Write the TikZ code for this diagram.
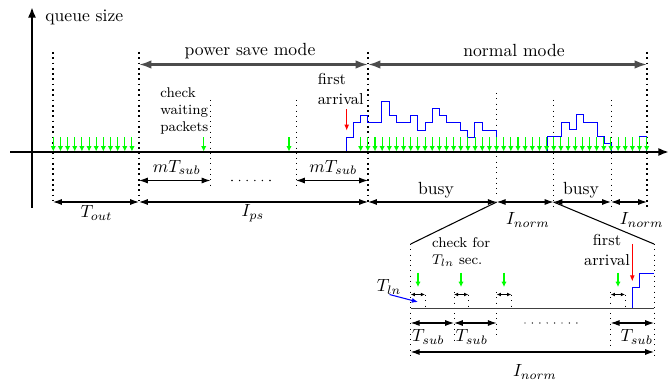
\documentclass[tikz,border=0pt]{standalone}
\usetikzlibrary{arrows.meta}
\begin{document}
\begin{tikzpicture}[x=0.568pt,y=-0.568pt,
  axisline/.style={line width=1.3pt,-{Latex[length=6pt,width=4.6pt]}},
  thickdot/.style={line width=1.1pt,dash pattern=on 1pt off 2pt},
  thindot/.style={line width=0.55pt,dash pattern=on 0.55pt off 2.45pt},
  dimarrow/.style={line width=0.6pt,{Latex[length=5pt,width=3.4pt]}-{Latex[length=5pt,width=3.4pt]}},
  tinydim/.style={line width=0.5pt,{Latex[length=2.4pt,width=2.2pt]}-{Latex[length=2.4pt,width=2.2pt]}},
  modearrow/.style={draw=black!70,line width=1.2pt,{Latex[length=7pt,width=4.8pt]}-{Latex[length=7pt,width=4.8pt]}},
  garrow/.style={draw=green,fill=green,line width=0.6pt,-{Latex[length=3pt,width=3pt]}},
  rarrow/.style={draw=red,line width=0.6pt,-{Latex[length=3.5pt,width=2.8pt]}},
  barrow/.style={draw=blue,line width=0.6pt,-{Latex[length=3.5pt,width=2.8pt]}},
  stairline/.style={draw=blue,line width=0.55pt},
  lbl/.style={inner sep=0pt},
]
\useasboundingbox (0,0) rectangle (669,382);

% ---- coordinates
\coordinate (xo) at (10,152); \coordinate (xe) at (669,152);
\coordinate (yo) at (32,208); \coordinate (ye) at (32,7);
\coordinate (m1) at (139,64.5); \coordinate (m2) at (368,64.5); \coordinate (m3) at (647,64.5);
\coordinate (r1a) at (139,180.5); \coordinate (r1b) at (210.5,180.5);
\coordinate (r1c) at (296,180.5); \coordinate (r1d) at (368,180.5);
\coordinate (r2a) at (53,202); \coordinate (r2b) at (139,202); \coordinate (r2c) at (368,202);
\coordinate (r2d) at (496.7,202); \coordinate (r2e) at (553.5,202); \coordinate (r2f) at (611,202);
\coordinate (r2g) at (647,202);
\coordinate (z1) at (410.7,244); \coordinate (z2) at (654,244);
\coordinate (b0) at (410.7,308.3); \coordinate (b1) at (654,308.3);
\coordinate (s0) at (410.7,323); \coordinate (s1) at (454,323); \coordinate (s2) at (496.7,323);
\coordinate (s3) at (610.7,323); \coordinate (s4) at (654,323);
\coordinate (n0) at (410.7,352); \coordinate (n1) at (654,352);
\coordinate (ra1) at (346.7,109.3); \coordinate (ra2) at (346.7,130.7);
\coordinate (rb1) at (632.3,244); \coordinate (rb2) at (632.3,281.5);
\coordinate (ba1) at (389.5,294.5); \coordinate (ba2) at (418,302);

% ---- dotted verticals (upper)
\foreach \x/\ya/\yb in {53/52/201,139/52/201,368/52/202,647/52/207}
  \draw[thickdot] (\x,\ya) -- (\x,\yb);
\foreach \x/\ya/\yb in {210.5/100/187,296/100/187,496.7/93/197,553.5/100/210,611/100/207}
  \draw[thindot] (\x,\ya) -- (\x,\yb);

% ---- blue queue staircases
\draw[stairline] (346,152) -- (346,137) -- (353.3,137) -- (353.3,122.7) -- (360.7,122.7) -- (360.7,115.7)
  -- (367.7,115.7) -- (367.7,122.7) -- (381.7,122.7) -- (381.7,101.3) -- (389,101.3) -- (389,115.7)
  -- (396.3,115.7) -- (396.3,122.7) -- (410.7,122.7) -- (410.7,115.7) -- (417.7,115.7) -- (417.7,130)
  -- (425,130) -- (425,122.7) -- (432,122.7) -- (432,108.5) -- (439,108.5) -- (439,115.7)
  -- (446.3,115.7) -- (446.3,122.7) -- (460.3,122.7) -- (460.3,130) -- (467.7,130) -- (467.7,137.5)
  -- (474.7,137.5) -- (474.7,122.7) -- (482,122.7) -- (482,130) -- (496.7,130) -- (496.7,152);
\draw[stairline] (547.3,152) -- (547.3,136) -- (561.5,136) -- (561.5,122) -- (569,122) -- (569,129)
  -- (576,129) -- (576,114.5) -- (583.5,114.5) -- (583.5,122) -- (597.5,122) -- (597.5,136)
  -- (604.5,136) -- (604.5,143.5) -- (611.5,143.5) -- (611.5,152);
\draw[stairline] (639.3,152) -- (639.3,136.5) -- (646.7,136.5) -- (646.7,152);

% ---- green check arrows
\foreach \i in {0,...,11}
  \draw[garrow] ({53.3+7.15*\i},137.5) -- ({53.3+7.15*\i},151.5);
\foreach \x in {203.7,289}
  \draw[garrow] (\x,137.5) -- (\x,151.5);
\foreach \i in {0,...,40}
  \draw[garrow] ({360.7+7.15*\i},137.5) -- ({360.7+7.15*\i},151.5);

% ---- axes
\draw[axisline] (xo) -- (xe);
\draw[axisline] (yo) -- (ye);

% ---- mode arrows
\draw[modearrow] (m1) -- (m2);
\draw[modearrow] (m2) -- (m3);

% ---- dimension arrows
\draw[dimarrow] (r1a) -- (r1b);
\draw[dimarrow] (r1c) -- (r1d);
\foreach \i in {0,...,5} \fill ({232+7.6*\i},180.5) circle (0.45pt);
\draw[dimarrow] (r2a) -- (r2b);
\draw[dimarrow] (r2b) -- (r2c);
\draw[dimarrow] (r2c) -- (r2d);
\draw[dimarrow] (r2d) -- (r2e);
\draw[dimarrow] (r2e) -- (r2f);
\draw[dimarrow] (r2f) -- (r2g);

% ---- red arrow (upper)
\draw[rarrow] (ra1) -- (ra2);

% ---- zoom lines
\draw[line width=0.6pt] (r2d) -- (z1);
\draw[line width=0.6pt] (r2e) -- (z2);

% ---- zoomed detail
\draw[thindot] (410.7,244) -- (410.7,358);
\draw[thindot] (654,244) -- (654,358);
\foreach \x/\yb in {454/340,496.7/337,610.7/345}
  \draw[thindot] (\x,292) -- (\x,\yb);
\foreach \x in {425,468.3,511.3,625}
  \draw[thindot] (\x,295) -- (\x,308);
\draw[line width=0.7pt,black!75] (b0) -- (b1);
\foreach \a/\b in {410.7/425,454/468.3,496.7/511.3,610.7/625}{
  \coordinate (ta) at (\a,294.5); \coordinate (tb) at (\b,294.5);
  \draw[tinydim] (ta) -- (tb);
}
\foreach \x in {418,461,504,618}
  \draw[garrow] (\x,273) -- (\x,287);
\draw[rarrow] (rb1) -- (rb2);
\draw[stairline] (632.3,308.3) -- (632.3,287.3) -- (639.5,287.3) -- (639.5,273) -- (654,273);
\draw[barrow] (ba1) -- (ba2);
\draw[dimarrow] (s0) -- (s1);
\draw[dimarrow] (s1) -- (s2);
\draw[dimarrow] (s3) -- (s4);
\foreach \i in {0,...,7} \fill ({525+7.4*\i},323) circle (0.4pt);
\draw[dimarrow] (n0) -- (n1);

% ---- labels
\node[lbl,anchor=base west] (qs) at (45,21.5) {queue size};
\node[lbl,anchor=base] (psm) at (250,56) {power save mode};
\node[lbl,anchor=base] (nm) at (514,56.5) {normal mode};
\node[lbl,font=\footnotesize,align=left,anchor=west] (cwp) at (160,111) {check\\waiting\\packets};
\node[lbl,font=\small,align=left,anchor=west] (fa1) at (317.5,89) {first\\arrival};
\node[lbl] (mt1) at (176.7,167.5) {$mT_{sub}$};
\node[lbl] (mt2) at (333.3,167.5) {$mT_{sub}$};
\node[lbl] (tout) at (96.5,213) {$T_{out}$};
\node[lbl] (ips) at (253,213) {$I_{ps}$};
\node[lbl] (busy1) at (436,190) {busy};
\node[lbl] (busy2) at (581,190) {busy};
\node[lbl] (in1) at (528,220) {$I_{norm}$};
\node[lbl] (in2) at (641.7,220) {$I_{norm}$};
\node[lbl,font=\footnotesize,align=left,anchor=west] (cf) at (431.7,252) {check for\\$T_{ln}$ sec.};
\node[lbl,font=\small,align=center] (fa2) at (607,250) {first\\arrival};
\node[lbl] (tln) at (389,287) {$T_{ln}$};
\node[lbl] (ts1) at (428.3,337) {$T_{sub}$};
\node[lbl] (ts2) at (471.7,337) {$T_{sub}$};
\node[lbl] (ts3) at (636.7,337) {$T_{sub}$};
\node[lbl] (in3) at (535,372) {$I_{norm}$};
\end{tikzpicture}
\end{document}
